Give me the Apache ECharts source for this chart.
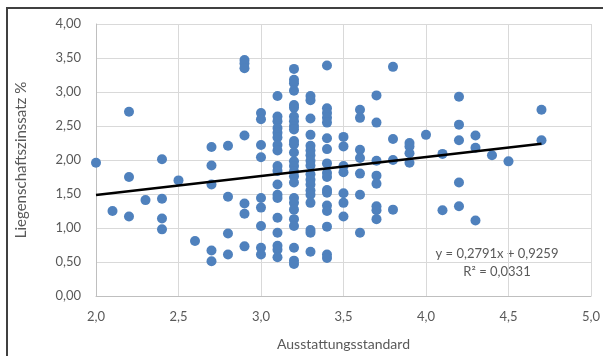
<!DOCTYPE html>
<html>
<head>
<meta charset="utf-8">
<script src="https://cdn.jsdelivr.net/npm/echarts@6/dist/echarts.min.js"></script>
<style>
  html, body { margin: 0; padding: 0; background: #fff; }
  #chart { width: 603px; height: 356px; }
</style>
</head>
<body>
<div id="chart"></div>
<script>
// Ausstattungsstandard (x) und die zugehörigen Liegenschaftszinssätze (y)
const standardLevels = [2.0, 2.1, 2.2, 2.3, 2.4, 2.5, 2.6, 2.7, 2.8, 2.9, 3.0, 3.1, 3.2, 3.3, 3.4, 3.5, 3.6, 3.7, 3.8, 3.9, 4.0, 4.1, 4.2, 4.3, 4.4, 4.5, 4.7];
const zinsByLevel = [
  [1.96],
  [1.25],
  [2.71, 1.75, 1.17],
  [1.41],
  [2.01, 1.43, 1.14, 0.98],
  [1.70],
  [0.81],
  [2.19, 1.92, 1.64, 0.67, 0.51],
  [2.21, 1.46, 0.92, 0.61],
  [3.47, 3.42, 3.35, 2.36, 1.36, 1.21, 0.73],
  [2.69, 2.60, 2.22, 2.04, 1.44, 1.30, 1.03, 0.71, 0.61],
  [2.94, 2.64, 2.57, 2.47, 2.40, 2.33, 2.22, 2.14, 1.91, 1.84, 1.64, 1.49, 1.44, 1.15, 0.93, 0.74, 0.68, 0.57],
  [3.34, 3.18, 3.13, 3.02, 2.81, 2.77, 2.64, 2.57, 2.50, 2.45, 2.28, 2.23, 2.11, 1.98, 1.91, 1.83, 1.76, 1.67, 1.44, 1.37, 1.27, 1.13, 1.03, 0.71, 0.52, 0.47],
  [2.94, 2.88, 2.61, 2.37, 2.21, 2.14, 2.07, 1.99, 1.92, 1.79, 1.71, 1.64, 1.55, 1.49, 1.37, 0.97, 0.93, 0.65],
  [3.39, 2.76, 2.69, 2.62, 2.55, 2.32, 2.16, 1.95, 1.81, 1.75, 1.56, 1.52, 1.33, 1.25, 1.02, 0.61, 0.56],
  [2.34, 2.20, 1.91, 1.82, 1.51, 1.37, 1.17],
  [2.74, 2.62, 2.15, 2.03, 1.80, 1.49, 0.93],
  [2.95, 2.55, 1.99, 1.77, 1.65, 1.32, 1.26, 1.13],
  [3.37, 2.31, 2.00, 1.27],
  [2.25, 2.20, 2.10, 1.96],
  [2.37],
  [2.09, 1.26],
  [2.93, 2.52, 2.29, 1.67, 1.32],
  [2.36, 2.18, 1.11],
  [2.07],
  [1.98],
  [2.74, 2.29]
];
// lineare Trendlinie laut Excel
const trendSlope = 0.2791;
const trendIntercept = 0.9259;
const trendRange = [2.0, 4.7];
const trendLabels = ["y = 0,2791x + 0,9259", "R² = 0,0331"];

const punkte = [];
standardLevels.forEach((x, i) => {
  zinsByLevel[i].forEach((y) => punkte.push([x, y]));
});
const trendPunkte = trendRange.map((x) => [x, trendSlope * x + trendIntercept]);

const schrift = "Lato, 'Liberation Sans', sans-serif";
const komma = (v, d) => v.toFixed(d).replace(".", ",");

var dom = document.getElementById("chart");
var myChart = echarts.init(dom, null, { renderer: "canvas" });

var option = {
  animation: false,
  grid: { left: 96, right: 11, top: 24, bottom: 59 },
  xAxis: {
    type: "value",
    min: 2,
    max: 5,
    interval: 0.5,
    name: "Ausstattungsstandard",
    nameLocation: "middle",
    nameGap: 41,
    nameTextStyle: { color: "#595959", fontSize: 14, fontFamily: schrift },
    axisLine: { show: true, lineStyle: { color: "#bfbfbf" } },
    axisTick: { show: false },
    axisLabel: { color: "#595959", fontSize: 13, fontFamily: schrift, margin: 14, formatter: (v) => komma(v, 1) },
    splitLine: { show: true, lineStyle: { color: "#d9d9d9" } }
  },
  yAxis: {
    type: "value",
    min: 0,
    max: 4,
    interval: 0.5,
    name: "Liegenschaftszinssatz %",
    nameLocation: "middle",
    nameGap: 67,
    nameTextStyle: { color: "#595959", fontSize: 15, fontFamily: schrift },
    axisLine: { show: true, lineStyle: { color: "#bfbfbf" } },
    axisTick: { show: false },
    axisLabel: { color: "#595959", fontSize: 13, fontFamily: schrift, margin: 15, formatter: (v) => komma(v, 2) },
    splitLine: { show: true, lineStyle: { color: "#d9d9d9" } }
  },
  series: [
    {
      type: "scatter",
      data: punkte,
      symbolSize: 10,
      itemStyle: { color: "#4f81bd", opacity: 1 },
      z: 2
    },
    {
      type: "line",
      data: trendPunkte,
      symbol: "none",
      lineStyle: { color: "#000", width: 2.5 },
      z: 3
    }
  ],
  graphic: [
    {
      type: "rect",
      shape: { x: 7, y: 8, width: 640, height: 400 },
      style: { fill: "none", stroke: "#404040", lineWidth: 2 },
      silent: true
    },
    {
      type: "text",
      x: 497,
      y: 254,
      style: { text: trendLabels[0], fill: "#595959", font: "13px " + schrift, textAlign: "center", textVerticalAlign: "middle" }
    },
    {
      type: "text",
      x: 497,
      y: 272,
      style: { text: trendLabels[1], fill: "#595959", font: "13px " + schrift, textAlign: "center", textVerticalAlign: "middle" }
    }
  ]
};

myChart.setOption(option);
window.addEventListener("resize", myChart.resize);
</script>
</body>
</html>
